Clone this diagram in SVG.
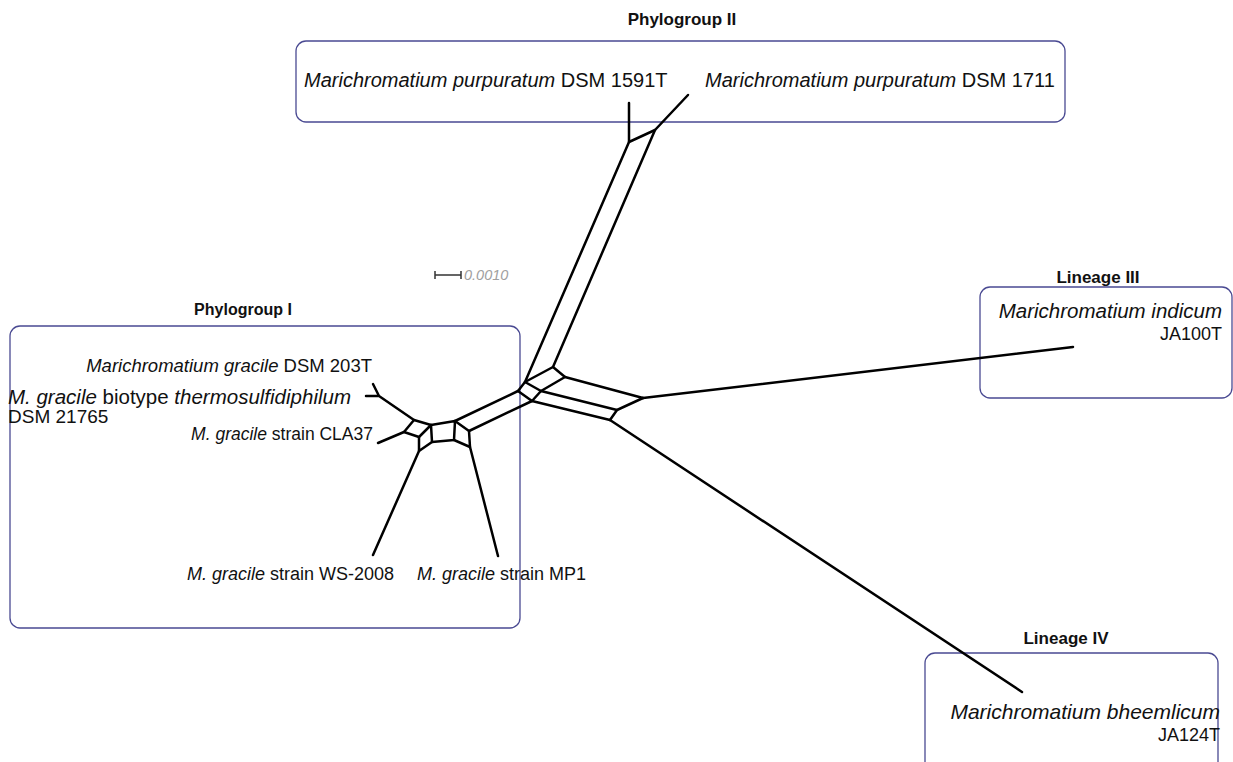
<svg xmlns="http://www.w3.org/2000/svg" width="1233" height="762" viewBox="0 0 1233 762">
  <style>
    .box { fill: none; stroke: #4a4a92; stroke-width: 1.3; }
    .title { font-family: "Liberation Sans", Arial, sans-serif; font-size: 17px; font-weight: bold; fill: #111; text-anchor: middle; }
    .lbl { font-family: "Liberation Sans", Arial, sans-serif; font-size: 18px; fill: #111; }
    .it { font-style: italic; }
    .edge { fill: none; stroke: #000; stroke-width: 2.5; stroke-linejoin: round; stroke-linecap: round; }
    .scale { font-family: "Liberation Sans", Arial, sans-serif; font-size: 14.5px; font-style: italic; fill: #a0a0a0; }
  </style>
  <rect width="1233" height="762" fill="#fff"/>

  <!-- group frames with their titles -->
  <g id="phylogroup-ii">
    <rect class="box" x="296" y="41" width="769" height="81" rx="10"/>
    <text class="title" x="682" y="25">Phylogroup II</text>
    <text class="lbl" x="304" y="87" style="font-size:20px"><tspan class="it">Marichromatium purpuratum</tspan> DSM 1591T</text>
    <text class="lbl" x="705" y="87" style="font-size:20px"><tspan class="it">Marichromatium purpuratum</tspan> DSM 1711</text>
  </g>

  <g id="phylogroup-i">
    <rect class="box" x="10" y="326" width="510" height="302" rx="10"/>
    <text class="title" x="243" y="315" style="font-size:16px">Phylogroup I</text>
    <text class="lbl" x="372" y="372" text-anchor="end" style="font-size:18.5px"><tspan class="it">Marichromatium gracile</tspan> DSM 203T</text>
    <text class="lbl" x="8" y="404" style="font-size:20.5px"><tspan class="it">M. gracile</tspan> biotype <tspan class="it">thermosulfidiphilum</tspan></text>
    <text class="lbl" x="8" y="423" style="font-size:19px">DSM 21765</text>
    <text class="lbl" x="373" y="440" text-anchor="end" style="font-size:17.5px"><tspan class="it">M. gracile</tspan> strain CLA37</text>
    <text class="lbl" x="394" y="580" text-anchor="end"><tspan class="it">M. gracile</tspan> strain WS-2008</text>
    <text class="lbl" x="417" y="580"><tspan class="it">M. gracile</tspan> strain MP1</text>
  </g>

  <g id="lineage-iii">
    <rect class="box" x="980" y="287" width="252" height="111" rx="10"/>
    <text class="title" x="1098" y="283">Lineage III</text>
    <text class="lbl" x="1222" y="318" text-anchor="end" style="font-size:20.5px"><tspan class="it">Marichromatium indicum</tspan></text>
    <text class="lbl" x="1222" y="340" text-anchor="end">JA100T</text>
  </g>

  <g id="lineage-iv">
    <rect class="box" x="925" y="653" width="293" height="130" rx="10"/>
    <text class="title" x="1066" y="644">Lineage IV</text>
    <text class="lbl" x="1220" y="719" text-anchor="end" style="font-size:21px"><tspan class="it">Marichromatium bheemlicum</tspan></text>
    <text class="lbl" x="1220" y="741" text-anchor="end">JA124T</text>
  </g>

  <!-- scale bar -->
  <g id="scale-bar">
    <path d="M435 275 H461 M435 271 V279 M461 271 V279" stroke="#333" stroke-width="1.5" fill="none"/>
    <text class="scale" x="464" y="280">0.0010</text>
  </g>

  <!-- splits network edges -->
  <g id="network">
    <!-- phylogroup I leaves -->
    <path class="edge" d="M366 396 L379 396 L373 384 M379 396 L414 420"/>
    <path class="edge" d="M404 432 L378 443"/>
    <path class="edge" d="M419 451 L373 555"/>
    <path class="edge" d="M470 447 L498 556"/>
    <!-- phylogroup I reticulation -->
    <path class="edge" d="M414 420 L431 425 L419 437 L404 432 Z"/>
    <path class="edge" d="M419 437 L419 451 L432 442 L431 425"/>
    <path class="edge" d="M431 425 L455 421 L454 440 L432 442"/>
    <path class="edge" d="M455 421 L469 431 L470 447 L454 440"/>
    <!-- long edges to the centre -->
    <path class="edge" d="M455 421 L518 391 M469 431 L532 401"/>
    <!-- central boxes -->
    <path class="edge" d="M518 391 L525 382 L541 391 L532 401 Z"/>
    <path class="edge" d="M525 382 L553 367 L565 377 L541 391"/>
    <!-- phylogroup II -->
    <path class="edge" d="M525 382 L629 142 M553 367 L655 130"/>
    <path class="edge" d="M629 142 L655 130 M629 142 L629 103 M655 130 L688 95"/>
    <!-- lineages III and IV -->
    <path class="edge" d="M565 377 L643 398 M541 391 L617 410 M532 401 L610 420"/>
    <path class="edge" d="M643 398 L617 410 L610 420"/>
    <path class="edge" d="M643 398 L1073 347"/>
    <path class="edge" d="M610 420 L1022 692"/>
  </g>
</svg>
